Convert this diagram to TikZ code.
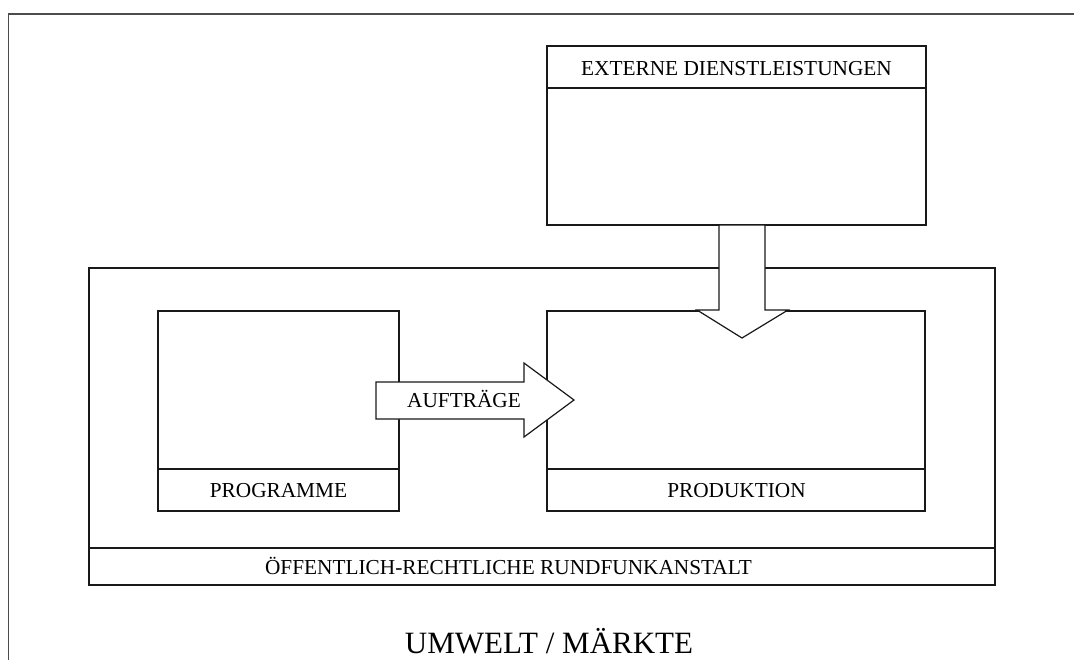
\documentclass[tikz,border=0pt]{standalone}
\usepackage{fontspec}
\setmainfont{Liberation Serif}
\usetikzlibrary{calc}
\tikzset{
  frame/.style={draw=black!70, line width=1.6pt},
  box/.style={draw=black!90, line width=1.2pt, fill=white},
  lbl/.style={font=\fontsize{21.3}{25}\selectfont, inner sep=0pt, anchor=base},
  big/.style={font=\fontsize{31}{36}\selectfont, inner sep=0pt, anchor=base},
  blockarrow/.style={draw=black!90, line width=1.2pt, fill=white, line join=miter}
}
\begin{document}
\begin{tikzpicture}[x=1pt,y=-1pt]
\useasboundingbox (0,0) rectangle (1074,659);
% outer frame (cut at right and bottom)
\draw[frame] (1080,14) -- (8.5,14) -- (8.5,665);
% boxes
\draw[box] (547,46) rectangle (926,225);
\draw[box] (547,88) -- (926,88);
\node[lbl] (ext) at (736.5,75) {EXTERNE DIENSTLEISTUNGEN};

\draw[box] (89,268) rectangle (995,585);
\draw[box] (89,548) -- (995,548);
\node[lbl] (orf) at (508.5,574) {ÖFFENTLICH-RECHTLICHE RUNDFUNKANSTALT};

\draw[box] (158,311) rectangle (399,511);
\draw[box] (158,469) -- (399,469);
\node[lbl] (prog) at (278.5,497) {PROGRAMME};

\draw[box] (547,311) rectangle (925,511);
\draw[box] (547,469) -- (925,469);
\node[lbl] (prod) at (736.5,497) {PRODUKTION};

% down block arrow
\draw[blockarrow] (719,225) -- (765,225) -- (765,310) -- (788,310) -- (742,338)
  -- (697,310) -- (719,310) -- cycle;
% right block arrow
\draw[blockarrow] (376,382) -- (524,382) -- (524,363) -- (574,400) -- (524,437)
  -- (524,419) -- (376,419) -- cycle;
\node[lbl] (auf) at (464,407) {AUFTRÄGE};

\node[big] (umw) at (549,653) {UMWELT / MÄRKTE};
\end{tikzpicture}
\end{document}
